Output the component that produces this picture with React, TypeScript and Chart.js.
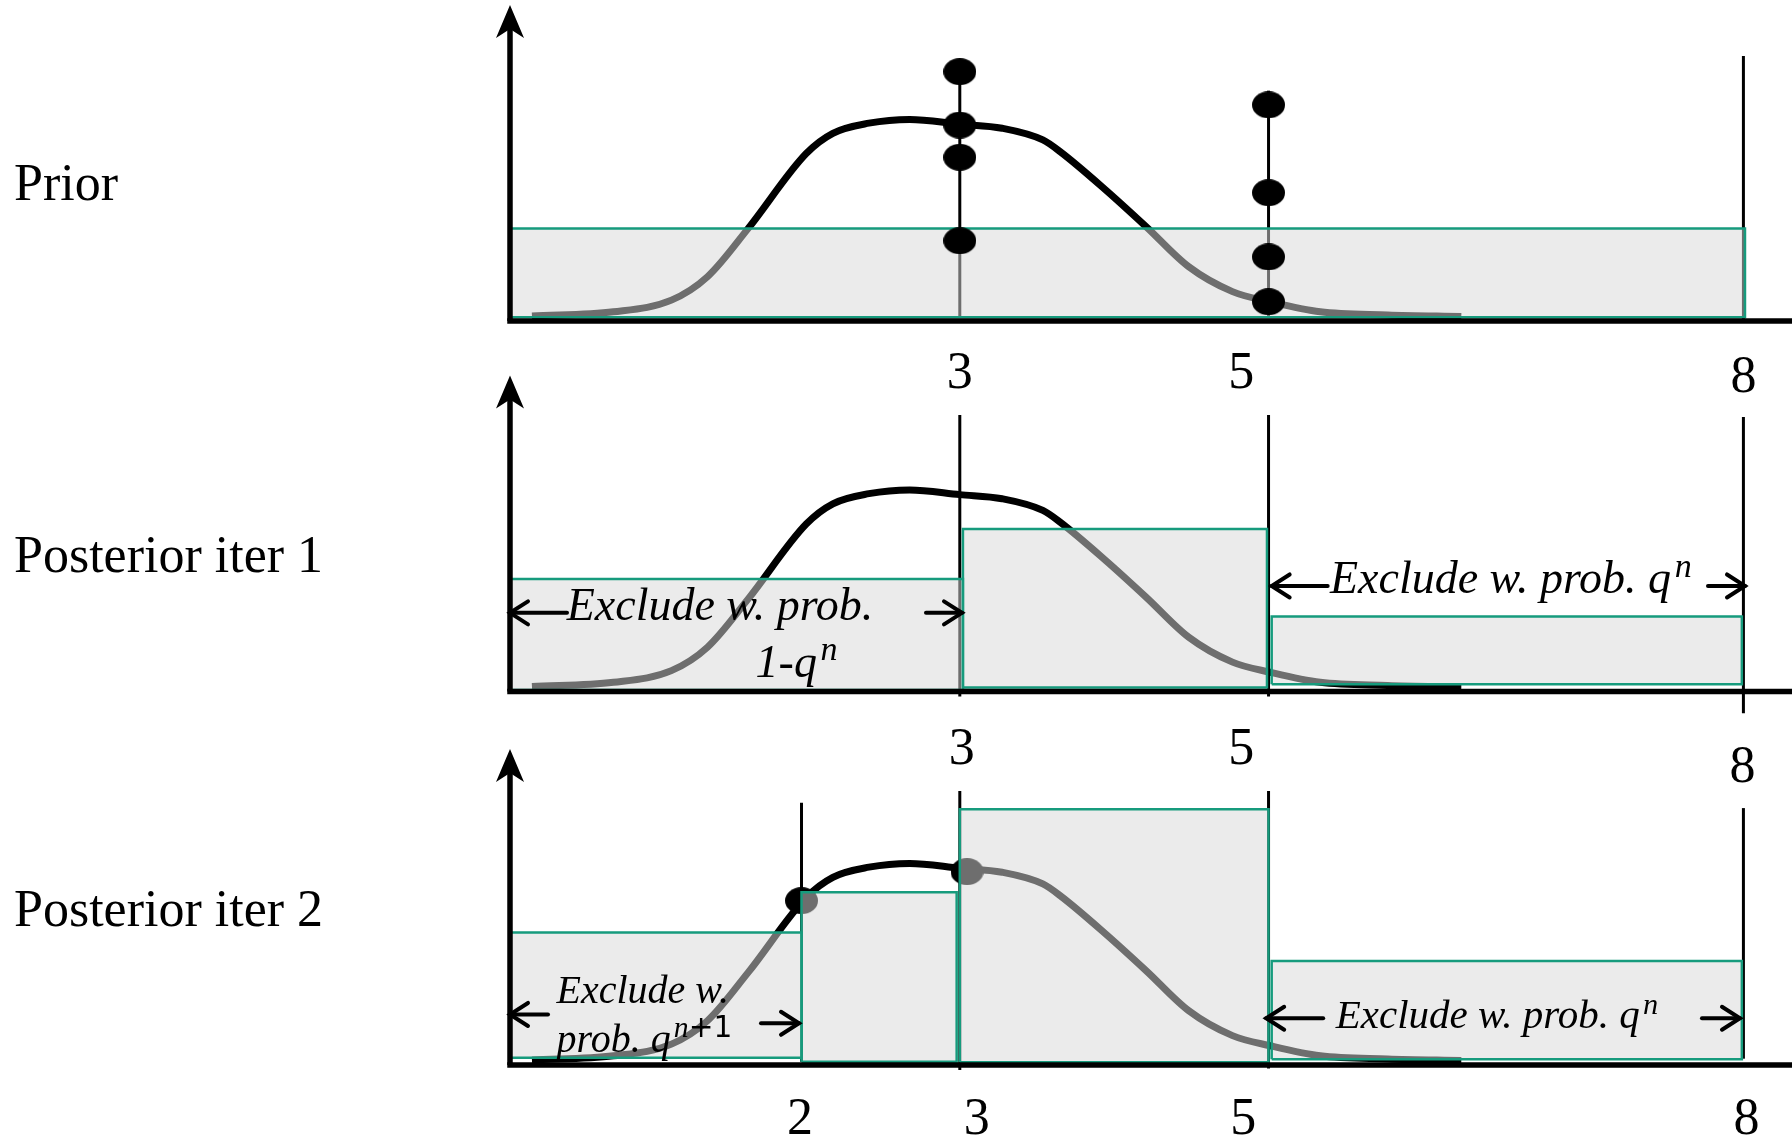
import { useEffect, useRef } from "react";
import { Chart, registerables } from "chart.js";

Chart.register(...registerables);

const W = 1792;
const H = 1139;

// Horizontal model range of every panel; the y axis stands at X_START.
const X_START = 0.13;
const X_END = 8.31;
// Vertical model range of every panel (0 = baseline, 100 = arrow tip).
const Y_MAX = 100;

// Prior density, shared by all three panels.
const densityX = [0.27, 0.79, 1.16, 1.39, 1.65, 2.02, 2.19, 2.42, 2.68, 3.0, 3.27, 3.53, 3.64, 3.93, 4.19, 4.46, 4.74, 4.98, 5.3, 5.73, 6.2];
const densityY = [1.6, 2.9, 6.6, 14.0, 29.3, 53.0, 59.4, 62.6, 63.8, 62.3, 61.0, 57.3, 53.6, 41.5, 29.8, 17.2, 9.3, 6.1, 2.9, 1.9, 1.4];

// Prior panel
const priorBoxLeft = [0.13];
const priorBoxRight = [8.01];
const priorBoxTop = [29.3];
const priorBoxBase = [1.2];
const priorLineX = [3.0, 4.97, 8.0];
const priorLineTop = [78.9, 72.9, 83.9];
const priorLineBottom = [1.2, 1.2, 0];
const priorDotX = [3.0, 3.0, 3.0, 3.0, 4.97, 4.97, 4.97, 4.97];
const priorDotY = [78.9, 62.0, 51.8, 25.4, 68.4, 40.6, 20.3, 6.1];
const priorTicks = [3, 5, 8];

// Posterior, first iteration
const iter1BoxLeft = [0.13, 3.02, 4.99];
const iter1BoxRight = [3.02, 4.96, 7.99];
const iter1BoxTop = [35.6, 51.4, 23.7];
const iter1BoxBase = [0.5, 1.3, 2.3];
const iter1LineX = [3.0, 4.97, 8.0];
const iter1LineTop = [87.5, 87.5, 86.9];
const iter1LineBottom = [-1.6, -1.6, -6.9];
const iter1Ticks = [3, 5, 8];

// Posterior, second iteration
const iter2BoxLeft = [0.13, 1.99, 3.0, 4.99];
const iter2BoxRight = [1.99, 2.98, 4.97, 7.99];
const iter2BoxTop = [41.9, 54.7, 80.9, 32.9];
const iter2BoxBase = [2.3, 1.0, 0.85, 1.8];
const iter2LineX = [1.99, 3.0, 4.97, 8.0];
const iter2LineTop = [83.0, 86.7, 86.7, 81.3];
const iter2LineBottom = [1.0, -1.6, -1.1, 2.0];
const iter2DotX = [1.99, 3.046];
const iter2DotY = [52.0, 61.2];
const iter2Ticks = [2, 3, 5, 8];

const TEAL = "#169b7d";
const BOX_FILL = "rgba(216,216,216,0.51)";
const SERIF = '"Liberation Serif", "Times New Roman", serif';
const SANS = '"DejaVu Sans", sans-serif';
const PX_PER_UNIT = 3.16;

type Run = { text: string; italic?: boolean; sup?: boolean; sans?: boolean };
type NoteLine = { x: number; y: number; size: number; runs: Run[] };
type Arrow = { tip: number; y: number; shaft: number; dir: -1 | 1 };
type Note = { arrows: Arrow[]; lines: NoteLine[] };

interface PanelSpec {
  title: string;
  base: number;
  titleDy: number;
  boxLeft: number[];
  boxRight: number[];
  boxTop: number[];
  boxBase: number[];
  lineX: number[];
  lineTop: number[];
  lineBottom: number[];
  dotX: number[];
  dotY: number[];
  dotsOnTop: boolean;
  ticks: number[];
  tickDx: number[];
  tickDy: number[];
  notes: Note[];
}

const PANELS: PanelSpec[] = [
  {
    title: "Prior",
    base: 321,
    titleDy: -121,
    boxLeft: priorBoxLeft,
    boxRight: priorBoxRight,
    boxTop: priorBoxTop,
    boxBase: priorBoxBase,
    lineX: priorLineX,
    lineTop: priorLineTop,
    lineBottom: priorLineBottom,
    dotX: priorDotX,
    dotY: priorDotY,
    dotsOnTop: true,
    ticks: priorTicks,
    tickDx: [0, -32, 0],
    tickDy: [67, 67, 71],
    notes: [],
  },
  {
    title: "Posterior iter 1",
    base: 691.5,
    titleDy: -119.5,
    boxLeft: iter1BoxLeft,
    boxRight: iter1BoxRight,
    boxTop: iter1BoxTop,
    boxBase: iter1BoxBase,
    lineX: iter1LineX,
    lineTop: iter1LineTop,
    lineBottom: iter1LineBottom,
    dotX: [],
    dotY: [],
    dotsOnTop: true,
    ticks: iter1Ticks,
    tickDx: [2, -32, -1],
    tickDy: [72, 72, 90],
    notes: [
      {
        arrows: [
          { tip: X_START, y: 24.9, shaft: 57, dir: -1 },
          { tip: 3.014, y: 24.9, shaft: 36, dir: 1 },
        ],
        lines: [
          { x: 0.492, y: 22.6, size: 46, runs: [{ text: "Exclude w. prob.", italic: true }] },
          { x: 1.697, y: 4.7, size: 46, runs: [{ text: "1-q", italic: true }, { text: "n", italic: true, sup: true }] },
        ],
      },
      {
        arrows: [
          { tip: 4.99, y: 33.4, shaft: 56, dir: -1 },
          { tip: 8.01, y: 33.4, shaft: 37, dir: 1 },
        ],
        lines: [
          {
            x: 5.362,
            y: 31.1,
            size: 46,
            runs: [{ text: "Exclude w. prob. q", italic: true }, { text: "n", italic: true, sup: true }],
          },
        ],
      },
    ],
  },
  {
    title: "Posterior iter 2",
    base: 1065,
    titleDy: -139,
    boxLeft: iter2BoxLeft,
    boxRight: iter2BoxRight,
    boxTop: iter2BoxTop,
    boxBase: iter2BoxBase,
    lineX: iter2LineX,
    lineTop: iter2LineTop,
    lineBottom: iter2LineBottom,
    dotX: iter2DotX,
    dotY: iter2DotY,
    dotsOnTop: false,
    ticks: iter2Ticks,
    tickDx: [-3, 17, -30, 3],
    tickDy: [69, 69, 69, 69],
    notes: [
      {
        arrows: [
          { tip: X_START, y: 16.0, shaft: 38, dir: -1 },
          { tip: 1.974, y: 13.2, shaft: 38, dir: 1 },
        ],
        lines: [
          { x: 0.427, y: 19.5, size: 40, runs: [{ text: "Exclude w.", italic: true }] },
          {
            x: 0.427,
            y: 4.2,
            size: 40,
            runs: [
              { text: "prob. q", italic: true },
              { text: "n", italic: true, sup: true },
              { text: "+1", sup: true, sans: true },
            ],
          },
        ],
      },
      {
        arrows: [
          { tip: 4.955, y: 14.8, shaft: 57, dir: -1 },
          { tip: 7.978, y: 14.8, shaft: 38, dir: 1 },
        ],
        lines: [
          {
            x: 5.399,
            y: 11.6,
            size: 41,
            runs: [{ text: "Exclude w. prob. q", italic: true }, { text: "n", italic: true, sup: true }],
          },
        ],
      },
    ],
  },
];

// Slightly flattened black dot used as the point marker.
function makeDot(): HTMLCanvasElement {
  const c = document.createElement("canvas");
  c.width = 33;
  c.height = 27;
  const g = c.getContext("2d")!;
  g.fillStyle = "#000";
  g.beginPath();
  g.ellipse(16.5, 13.5, 16.5, 13.5, 0, 0, Math.PI * 2);
  g.fill();
  return c;
}
const DOT = makeDot();

function buildDatasets(spec: PanelSpec) {
  const ds: any[] = [];
  ds.push({
    data: densityX.map((x, i) => ({ x, y: densityY[i] })),
    borderColor: "#000",
    borderWidth: 7,
    pointRadius: 0,
    cubicInterpolationMode: "monotone",
    fill: false,
    clip: false,
    order: 6,
  });
  spec.lineX.forEach((x, i) => {
    ds.push({
      data: [
        { x, y: spec.lineBottom[i] },
        { x, y: spec.lineTop[i] },
      ],
      borderColor: "#000",
      borderWidth: 3,
      borderCapStyle: "butt",
      pointRadius: 0,
      fill: false,
      clip: false,
      order: 5,
    });
  });
  if (spec.dotX.length) {
    ds.push({
      data: spec.dotX.map((x, i) => ({ x, y: spec.dotY[i] })),
      showLine: false,
      pointStyle: DOT,
      pointRadius: 14,
      fill: false,
      clip: false,
      order: spec.dotsOnTop ? 1 : 4,
    });
  }
  spec.boxLeft.forEach((l, i) => {
    const r = spec.boxRight[i];
    const t = spec.boxTop[i];
    const b = spec.boxBase[i];
    ds.push({
      data: [
        { x: l, y: b },
        { x: l, y: t },
        { x: r, y: t },
        { x: r, y: b },
        { x: l, y: b },
      ],
      borderColor: TEAL,
      borderWidth: 2.5,
      borderJoinStyle: "miter",
      backgroundColor: BOX_FILL,
      fill: "shape",
      tension: 0,
      pointRadius: 0,
      clip: false,
      order: 3,
    });
  });
  return ds;
}

function drawRuns(ctx: CanvasRenderingContext2D, x: number, y: number, size: number, runs: Run[]) {
  let cx = x;
  for (const r of runs) {
    const fs = r.sup ? size * 0.74 : size;
    ctx.font = `${r.italic ? "italic " : ""}${fs}px ${r.sans ? SANS : SERIF}`;
    const yy = r.sup ? y - size * 0.36 : y;
    if (r.sup && !r.sans) cx += size * 0.08;
    ctx.fillText(r.text, cx, yy);
    cx += ctx.measureText(r.text).width;
  }
}

function decorPlugin(spec: PanelSpec) {
  return {
    id: "panelDecor",
    afterDatasetsDraw(chart: any) {
      const ctx: CanvasRenderingContext2D = chart.ctx;
      const xs = chart.scales.x;
      const ys = chart.scales.y;
      const x0 = xs.getPixelForValue(X_START);
      const y0 = ys.getPixelForValue(0);
      const yTip = ys.getPixelForValue(Y_MAX);
      ctx.save();
      ctx.strokeStyle = "#000";
      ctx.fillStyle = "#000";

      // axes
      ctx.lineWidth = 5.5;
      ctx.lineCap = "butt";
      ctx.beginPath();
      ctx.moveTo(x0 - 2.75, y0);
      ctx.lineTo(chart.width, y0);
      ctx.stroke();
      ctx.beginPath();
      ctx.moveTo(x0, y0);
      ctx.lineTo(x0, yTip + 20);
      ctx.stroke();
      ctx.beginPath();
      ctx.moveTo(x0, yTip);
      ctx.lineTo(x0 + 14, yTip + 33);
      ctx.lineTo(x0, yTip + 24);
      ctx.lineTo(x0 - 14, yTip + 33);
      ctx.closePath();
      ctx.fill();

      // tick labels
      ctx.font = `52px ${SERIF}`;
      ctx.textAlign = "center";
      ctx.textBaseline = "alphabetic";
      spec.ticks.forEach((v, i) => {
        ctx.fillText(String(v), xs.getPixelForValue(v) + spec.tickDx[i], y0 + spec.tickDy[i]);
      });

      // panel title
      ctx.textAlign = "left";
      ctx.font = `52px ${SERIF}`;
      ctx.fillText(spec.title, 14, y0 + spec.titleDy);

      // annotations
      for (const note of spec.notes) {
        ctx.lineWidth = 4;
        ctx.lineCap = "round";
        ctx.lineJoin = "miter";
        for (const a of note.arrows) {
          const tx = xs.getPixelForValue(a.tip);
          const ty = ys.getPixelForValue(a.y);
          ctx.beginPath();
          ctx.moveTo(tx - a.dir * a.shaft, ty);
          ctx.lineTo(tx, ty);
          ctx.stroke();
          ctx.beginPath();
          ctx.moveTo(tx - a.dir * 18, ty - 11.5);
          ctx.lineTo(tx, ty);
          ctx.lineTo(tx - a.dir * 18, ty + 11.5);
          ctx.stroke();
        }
        for (const ln of note.lines) {
          drawRuns(ctx, xs.getPixelForValue(ln.x), ys.getPixelForValue(ln.y), ln.size, ln.runs);
        }
      }
      ctx.restore();
    },
  };
}

function Panel({ spec }: { spec: PanelSpec }) {
  const ref = useRef<HTMLCanvasElement>(null);
  useEffect(() => {
    const canvas = ref.current;
    if (!canvas) return;
    const top = spec.base - Y_MAX * PX_PER_UNIT;
    const chart = new Chart(canvas, {
      type: "line",
      data: { datasets: buildDatasets(spec) },
      options: {
        responsive: false,
        animation: false,
        devicePixelRatio: 1,
        events: [],
        layout: { autoPadding: false, padding: { left: 510, right: 0, top, bottom: H - spec.base } },
        scales: {
          x: { type: "linear", min: X_START, max: X_END, display: false },
          y: { type: "linear", min: 0, max: Y_MAX, display: false },
        },
        plugins: {
          legend: { display: false },
          tooltip: { enabled: false },
          filler: { propagate: false },
        },
      } as any,
      plugins: [decorPlugin(spec)],
    });
    return () => chart.destroy();
  }, [spec]);
  return (
    <canvas
      ref={ref}
      width={W}
      height={H}
      style={{ position: "absolute", left: 0, top: 0, width: W, height: H }}
    />
  );
}

export default function App() {
  return (
    <div style={{ position: "absolute", left: 0, top: 0, width: W, height: H, background: "#fff", overflow: "hidden" }}>
      {PANELS.map((p) => (
        <Panel key={p.title} spec={p} />
      ))}
    </div>
  );
}
